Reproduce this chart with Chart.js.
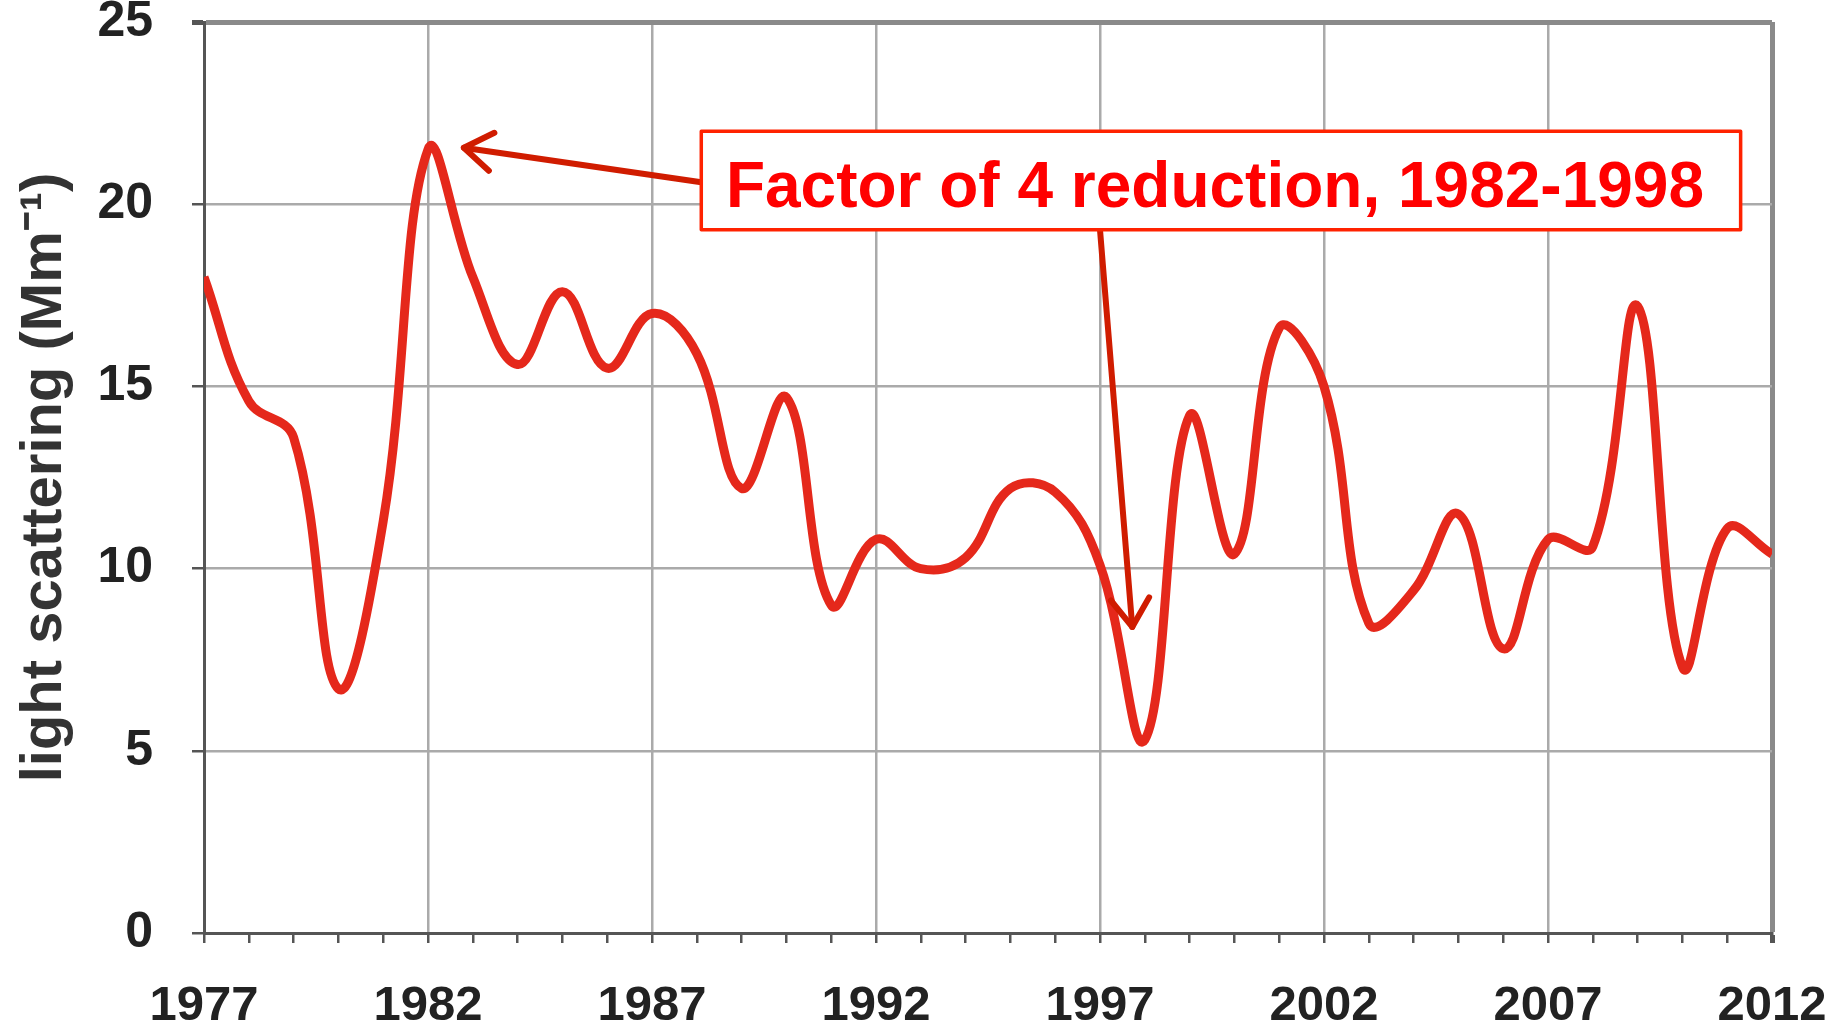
<!DOCTYPE html>
<html lang="en">
<head>
  <meta charset="UTF-8">
  <title>Light scattering 1977-2012</title>
  <script src="https://cdn.jsdelivr.net/npm/chart.js"></script>
  <style>
    body {
      margin: 0;
      background: white;
    }
    .chart-wrap {
      width: 1847px;
      height: 1022px;
      position: relative;
    }
  </style>
</head>
<body>

  <div class="chart-wrap">
    <canvas id="lineChart"></canvas>
  </div>

  <script>
    const years = [1977, 1978, 1979, 1980, 1981, 1982, 1983, 1984, 1985, 1986, 1987, 1988,
                   1989, 1990, 1991, 1992, 1993, 1994, 1995, 1996, 1997, 1998, 1999, 2000,
                   2001, 2002, 2003, 2004, 2005, 2006, 2007, 2008, 2009, 2010, 2011, 2012];
    const scattering = [18.0, 14.6, 13.6, 6.7, 11.3, 21.5, 18.0, 15.6, 17.6, 15.5, 17.0, 15.9,
                        12.2, 14.7, 9.0, 10.8, 10.0, 10.3, 12.2, 12.1, 10.1, 5.3, 14.2, 10.4,
                        16.6, 15.0, 8.5, 9.4, 11.5, 7.8, 10.8, 10.6, 17.2, 7.3, 11.1, 10.4];
    const xTickYears = [1977, 1982, 1987, 1992, 1997, 2002, 2007, 2012];
    const yTickValues = [0, 5, 10, 15, 20, 25];

    // annotation, placed in data units (year, Mm-1)
    const noteText = 'Factor of 4 reduction, 1982-1998';
    const noteBox = { x1: 1988.1, x2: 2011.3, y1: 22.0, y2: 19.3 };
    const noteArrows = [
      { from: [1988.1, 20.6], to: [1982.8, 21.55] },
      { from: [1997.0, 19.3], to: [1997.72, 8.4] }
    ];

    const fontFamily = '"Liberation Sans", Arial, sans-serif';

    const notePlugin = {
      id: 'note',
      afterDatasetsDraw(chart) {
        const { ctx, scales: { x, y } } = chart;
        ctx.save();
        ctx.strokeStyle = '#d01c00';
        ctx.lineWidth = 6;
        ctx.lineCap = 'round';
        ctx.lineJoin = 'round';
        noteArrows.forEach(a => {
          const x0 = x.getPixelForValue(a.from[0]), y0 = y.getPixelForValue(a.from[1]);
          const x1 = x.getPixelForValue(a.to[0]), y1 = y.getPixelForValue(a.to[1]);
          ctx.beginPath();
          ctx.moveTo(x0, y0);
          ctx.lineTo(x1, y1);
          ctx.stroke();
          const ang = Math.atan2(y1 - y0, x1 - x0), len = 34, spread = 0.6;
          ctx.beginPath();
          ctx.moveTo(x1 - len * Math.cos(ang - spread), y1 - len * Math.sin(ang - spread));
          ctx.lineTo(x1, y1);
          ctx.lineTo(x1 - len * Math.cos(ang + spread), y1 - len * Math.sin(ang + spread));
          ctx.stroke();
        });

        const bx = x.getPixelForValue(noteBox.x1), by = y.getPixelForValue(noteBox.y1);
        const bw = x.getPixelForValue(noteBox.x2) - bx, bh = y.getPixelForValue(noteBox.y2) - by;
        ctx.fillStyle = 'white';
        ctx.fillRect(bx, by, bw, bh);
        ctx.strokeStyle = '#ff2200';
        ctx.lineWidth = 3.5;
        ctx.strokeRect(bx, by, bw, bh);
        ctx.fillStyle = '#ff0000';
        ctx.font = 'bold 64px ' + fontFamily;
        ctx.textAlign = 'center';
        ctx.textBaseline = 'middle';
        ctx.fillText(noteText, bx + bw / 2 - 6, by + bh / 2 + 9);
        ctx.restore();
      }
    };

    const ctx = document.getElementById('lineChart').getContext('2d');
    new Chart(ctx, {
      type: 'line',
      data: {
        datasets: [{
          label: 'light scattering',
          data: years.map((yr, i) => ({ x: yr, y: scattering[i] })),
          borderColor: '#e5281b',
          borderWidth: 9,
          pointRadius: 0,
          tension: 0.4,
          fill: false
        }]
      },
      options: {
        responsive: true,
        maintainAspectRatio: false,
        animation: false,
        layout: { padding: { top: 22, right: 75, left: 0, bottom: 0 } },
        plugins: {
          legend: { display: false },
          tooltip: { enabled: false }
        },
        scales: {
          x: {
            type: 'linear',
            min: 1977,
            max: 2012,
            afterBuildTicks(s) { s.ticks = years.map(v => ({ value: v })); },
            afterFit(s) { s.height = 89; s.paddingLeft = 0; s.paddingRight = 0; },
            ticks: {
              autoSkip: false,
              maxRotation: 0,
              padding: 34,
              color: '#222',
              font: { family: fontFamily, size: 49, weight: 'bold' },
              callback: v => xTickYears.includes(v) ? String(v) : ''
            },
            grid: {
              color: c => xTickYears.includes(c.tick.value)
                ? (c.tick.value === 2012 ? '#8a8a8a' : '#aaaaaa') : 'rgba(0,0,0,0)',
              lineWidth: c => c.tick.value === 2012 ? 5 : 2.5,
              tickColor: '#555',
              tickLength: 10
            },
            border: { color: '#555', width: 3 }
          },
          y: {
            min: 0,
            max: 25,
            afterBuildTicks(s) { s.ticks = yTickValues.map(v => ({ value: v })); },
            afterFit(s) { s.width = 204; s.paddingTop = 0; s.paddingBottom = 0; },
            ticks: {
              padding: 39,
              color: '#222',
              font: { family: fontFamily, size: 50, weight: 'bold' }
            },
            grid: {
              color: c => c.tick.value === 25 ? '#8a8a8a' : '#aaaaaa',
              lineWidth: c => c.tick.value === 25 ? 5 : 2.5,
              tickColor: '#555',
              tickLength: 12
            },
            border: { color: '#555', width: 3 },
            title: {
              display: true,
              text: 'light scattering (Mm⁻¹)',
              color: '#333',
              font: { family: fontFamily, size: 58, weight: 'bold' },
              padding: { top: 10, bottom: 0 }
            }
          }
        }
      },
      plugins: [notePlugin]
    });
  </script>
</body>
</html>
